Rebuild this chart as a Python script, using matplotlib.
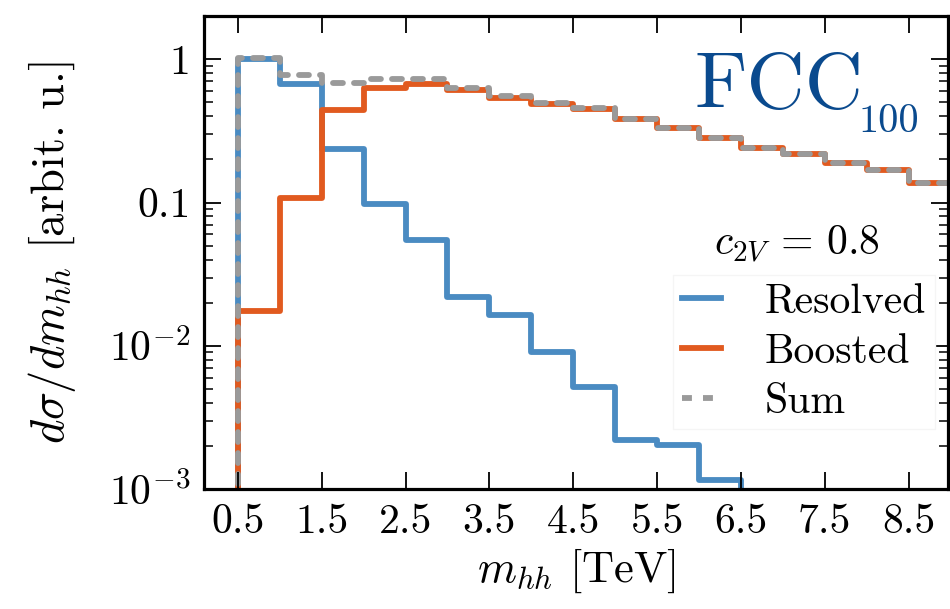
import matplotlib
matplotlib.use("Agg")
import matplotlib.pyplot as plt
import numpy as np

# bin edges in TeV (0.5 TeV bins)
bin_edges = [0.5, 1.0, 1.5, 2.0, 2.5, 3.0, 3.5, 4.0, 4.5, 5.0,
             5.5, 6.0, 6.5, 7.0, 7.5, 8.0, 8.5, 9.0]
resolved = [1.0, 0.668, 0.235, 0.097, 0.0545, 0.0221, 0.0165, 0.0091,
            0.0052, 0.0022, 0.00205, 0.00116, 0.0, 0.0, 0.0, 0.0, 0.0]
boosted = [0.0174, 0.107, 0.442, 0.634, 0.676, 0.61, 0.534, 0.485,
           0.452, 0.38, 0.329, 0.28, 0.241, 0.219, 0.190, 0.168, 0.137]

xticks = [0.5, 1.5, 2.5, 3.5, 4.5, 5.5, 6.5, 7.5, 8.5]
yticks = [1e-3, 1e-2, 0.1, 1]
ytick_labels = [r"$10^{-3}$", r"$10^{-2}$", "0.1", "1"]

BLUE = "#4A8BC2"
ORANGE = "#E15A1F"
GRAY = "#9A9A9A"
FCC_BLUE = "#0A4A8E"

plt.rcParams.update({
    "font.family": "serif",
    "font.serif": ["cmr10"],
    "mathtext.fontset": "cm",
    "axes.formatter.use_mathtext": True,
    "font.size": 30,
})

fig = plt.figure(figsize=(9.5, 6.09), dpi=100)
ax = fig.add_axes([0.215, 0.1966, 0.783, 0.7771])

total = np.array(resolved) + np.array(boosted)
lw = 4.2
ax.stairs(resolved, bin_edges, color=BLUE, lw=lw, label="Resolved")
ax.stairs(boosted, bin_edges, color=ORANGE, lw=lw, label="Boosted")
ax.stairs(total, bin_edges, color=GRAY, lw=lw, ls=(0, (1.7, 1.9)),
          label="Sum")
for p in ax.patches:
    p.set_capstyle("round")
    p.set_joinstyle("round")

ax.set_yscale("log")
ax.set_xlim(0.1, 8.97)
ax.set_ylim(1e-3, 2.0)
ax.set_xticks(xticks)
ax.set_xticklabels([f"{t:.1f}" for t in xticks])
ax.set_yticks(yticks)
ax.set_yticklabels(ytick_labels)
ax.xaxis.set_minor_locator(matplotlib.ticker.NullLocator())

ax.tick_params(which="both", direction="in", top=True, right=True)
ax.tick_params(which="major", length=12, width=1.3, pad=10)
ax.tick_params(which="minor", length=6.5, width=1.1)
for s in ax.spines.values():
    s.set_linewidth(2.3)

ax.set_xlabel(r"$m_{hh}$ [TeV]", fontsize=32, labelpad=4)
ax.set_ylabel(r"$d\sigma/dm_{hh}$ [arbit. u.]", fontsize=33.5, labelpad=22)

# FCC_100 label, subscript drawn as its own smaller text
ax.text(0.6595, 0.8056, "FCC", transform=ax.transAxes,
        fontsize=58, color=FCC_BLUE, ha="left", va="baseline")
ax.text(0.88, 0.7553, "100", transform=ax.transAxes,
        fontsize=29, color=FCC_BLUE, ha="left", va="baseline")

ax.text(0.797, 0.4943, r"$c_{2V}$ = 0.8", transform=ax.transAxes,
        fontsize=30, ha="center", va="baseline")

leg = ax.legend(loc="lower right", bbox_to_anchor=(0.982, 0.127),
                borderaxespad=0.0, borderpad=0.2, fontsize=30,
                handlelength=0.95, handletextpad=1.05, labelspacing=0.3,
                frameon=True, framealpha=1.0, edgecolor="0.96", fancybox=False)

fig.savefig("out.png", dpi=100)
